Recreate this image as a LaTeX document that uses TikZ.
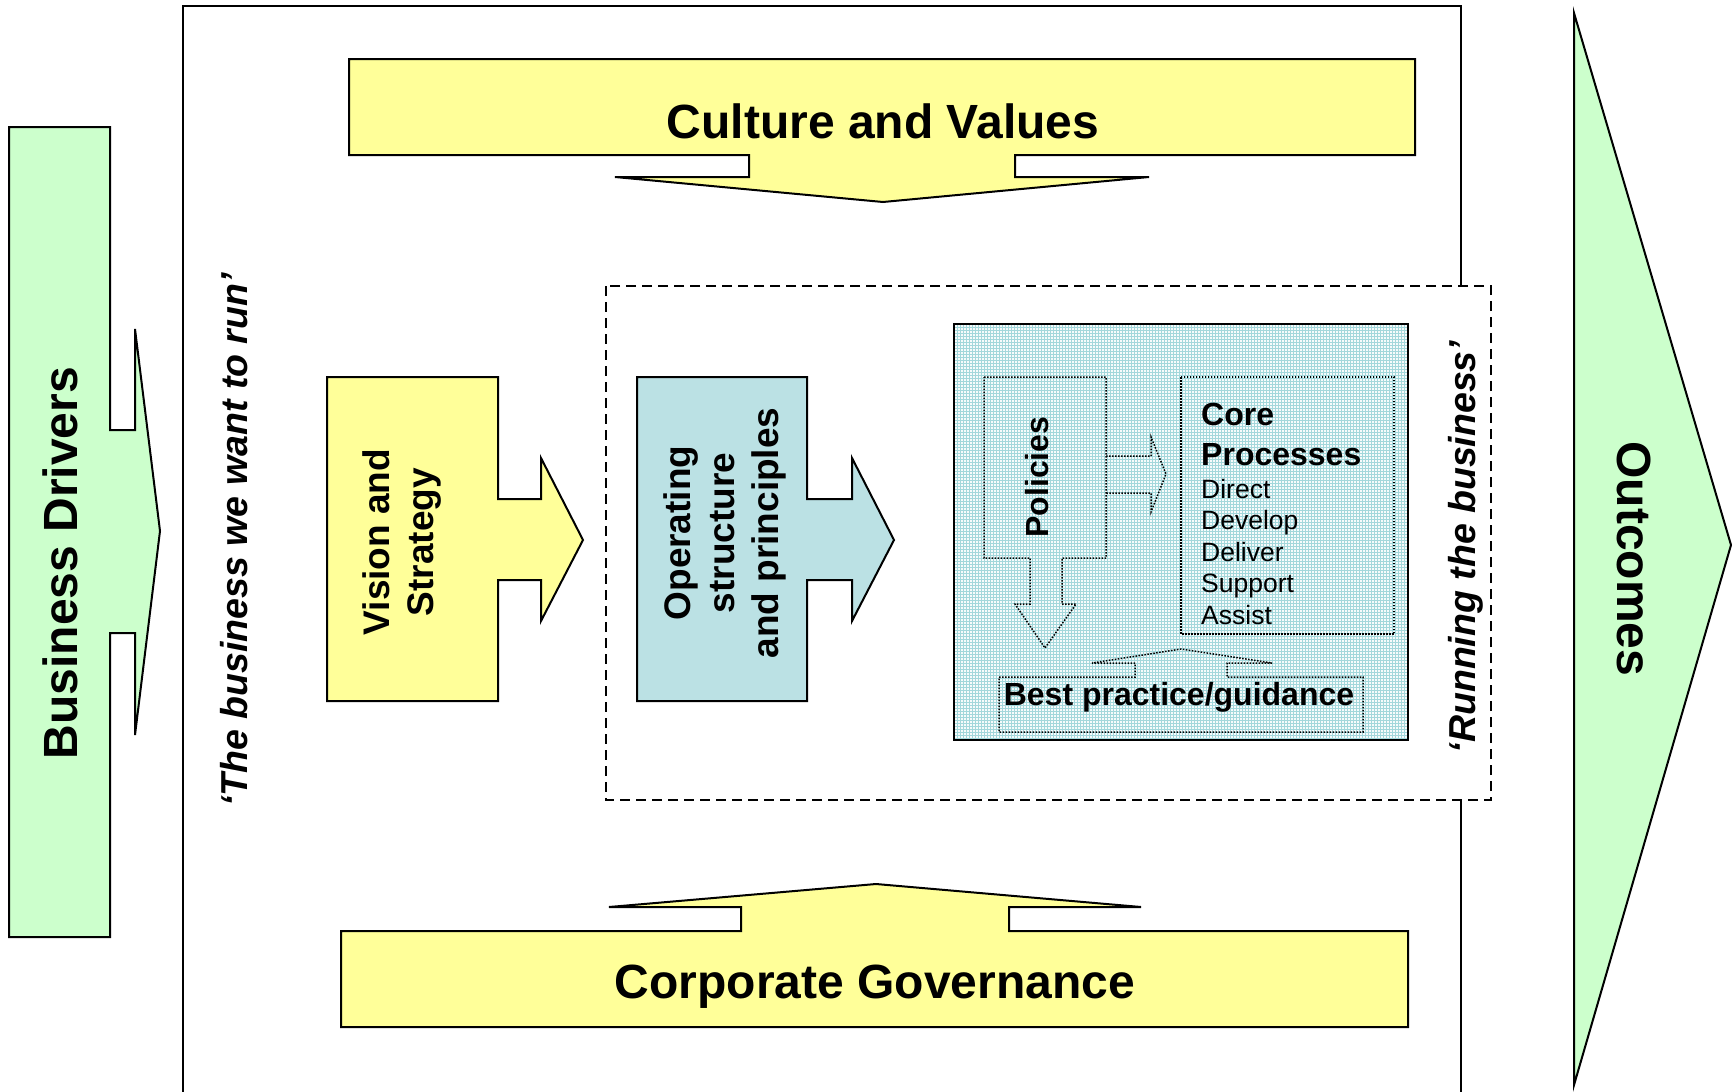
\documentclass[tikz,border=0pt]{standalone}
\usepackage{fontspec}
\setmainfont{Liberation Sans}
\usetikzlibrary{patterns}
\definecolor{paleyellow}{HTML}{FFFF99}
\definecolor{palegreen}{HTML}{CCFFCC}
\definecolor{paleteal}{HTML}{BBE1E4}
\definecolor{gridcyan}{HTML}{A3D7DB}
\definecolor{gridbase}{HTML}{F6FBFB}

\begin{document}
\begin{tikzpicture}[x=1pt,y=-1pt,
  blockarrow/.style={draw=black, line width=2pt, line join=miter},
  frameline/.style={draw=black, line width=1.6pt},
  dashframe/.style={draw=black, line width=1.8pt, dash pattern=on 10pt off 6pt, fill=white},
  dotline/.style={draw=black, line width=1.5pt, dash pattern=on 1.5pt off 1.5pt},
  bigtext/.style={font=\fontsize{48}{58}\selectfont\bfseries, inner sep=0pt},
  midtext/.style={font=\fontsize{37}{44}\selectfont\bfseries, align=center, inner sep=0pt},
  quotetext/.style={font=\fontsize{37.5}{45}\selectfont\bfseries\itshape, inner sep=0pt},
  smallbold/.style={font=\fontsize{32}{40}\selectfont\bfseries, inner sep=0pt},
  listtext/.style={font=\fontsize{26.5}{31.5}\selectfont, inner sep=0pt}
]
\useasboundingbox (0,0) rectangle (1732,1092);
\clip (0,0) rectangle (1732,1092);

% outer frame (runs off the bottom edge)
\draw[frameline] (183,6) rectangle (1461,1150);

% Culture and Values, pointing down
\draw[blockarrow, fill=paleyellow]
  (349,59) -- (1415,59) -- (1415,155) -- (1015,155) -- (1015,177) -- (1149,177)
  -- (883,202) -- (615,177) -- (749,177) -- (749,155) -- (349,155) -- cycle;

% Corporate Governance, pointing up
\draw[blockarrow, fill=paleyellow]
  (341,931) -- (741,931) -- (741,907) -- (609,907) -- (876,884) -- (1141,907)
  -- (1009,907) -- (1009,931) -- (1408,931) -- (1408,1027) -- (341,1027) -- cycle;

% running-the-business area
\draw[dashframe] (606,286) rectangle (1491,800);

% Vision and Strategy
\draw[blockarrow, fill=paleyellow]
  (327,377) -- (498,377) -- (498,499) -- (541,499) -- (541,458) -- (583,540)
  -- (541,621) -- (541,580) -- (498,580) -- (498,701) -- (327,701) -- cycle;

% Operating structure and principles
\draw[blockarrow, fill=paleteal]
  (637,377) -- (807,377) -- (807,499) -- (852,499) -- (852,458) -- (894,540)
  -- (852,621) -- (852,580) -- (807,580) -- (807,701) -- (637,701) -- cycle;

% gridded panel
\fill[gridbase] (954,324) rectangle (1408,740);
\fill[pattern=grid, pattern color=gridcyan] (954,324) rectangle (1408,740);
\draw[black, line width=2pt] (954,324) rectangle (1408,740);

% Policies, pointing down
\draw[dotline]
  (984,377) -- (1106,377) -- (1106,558) -- (1062,558) -- (1062,604) -- (1076,604)
  -- (1045,648) -- (1015,604) -- (1030,604) -- (1030,558) -- (984,558) -- cycle;
% Policies to Core Processes
\draw[dotline]
  (1106,456) -- (1151,456) -- (1151,437) -- (1166,474) -- (1151,512) -- (1151,493) -- (1106,493);
% Core Processes box
\draw[dotline] (1181,377) rectangle (1394,634);
% Best practice/guidance with arrow up
\draw[dotline]
  (999,677) -- (1135,677) -- (1135,663) -- (1092,663) -- (1181,649) -- (1272,663)
  -- (1227,663) -- (1227,677) -- (1363,677) -- (1363,732) -- (999,732) -- cycle;

% Business Drivers
\draw[blockarrow, fill=palegreen]
  (9,127) -- (110,127) -- (110,430) -- (135,430) -- (135,329) -- (160,531)
  -- (135,735) -- (135,633) -- (110,633) -- (110,937) -- (9,937) -- cycle;

% Outcomes
\draw[blockarrow, fill=palegreen] (1574,13) -- (1731,545) -- (1574,1085) -- cycle;

% labels
\node[bigtext, rotate=90] (drivers) at (60,563) {Business Drivers};
\node[bigtext, anchor=base] (culture) at (883,138) {Culture and Values};
\node[bigtext, anchor=base] (governance) at (875,998) {Corporate Governance};
\node[bigtext, rotate=-90] (outcomes) at (1634,559) {Outcomes};
\node[quotetext, rotate=90] (want) at (234,540) {‘The business we want to run’};
\node[quotetext, rotate=90] (running) at (1466,547) {‘Running the business’};
\node[midtext, rotate=90] (vision) at (402,542) {Vision and\\Strategy};
\node[midtext, rotate=90] (operating) at (725,533) {Operating\\structure\\and principles};
\node[smallbold, rotate=90] (policies) at (1037,477) {Policies};
\node[smallbold, anchor=north west, align=left] (coretitle) at (1201,403) {Core\\Processes};
\node[listtext, anchor=north west, align=left] (corelist) at (1201,479) {Direct\\Develop\\Deliver\\Support\\Assist};
\node[smallbold, anchor=base] (guidance) at (1179,705) {Best practice/guidance};
\end{tikzpicture}
\end{document}
